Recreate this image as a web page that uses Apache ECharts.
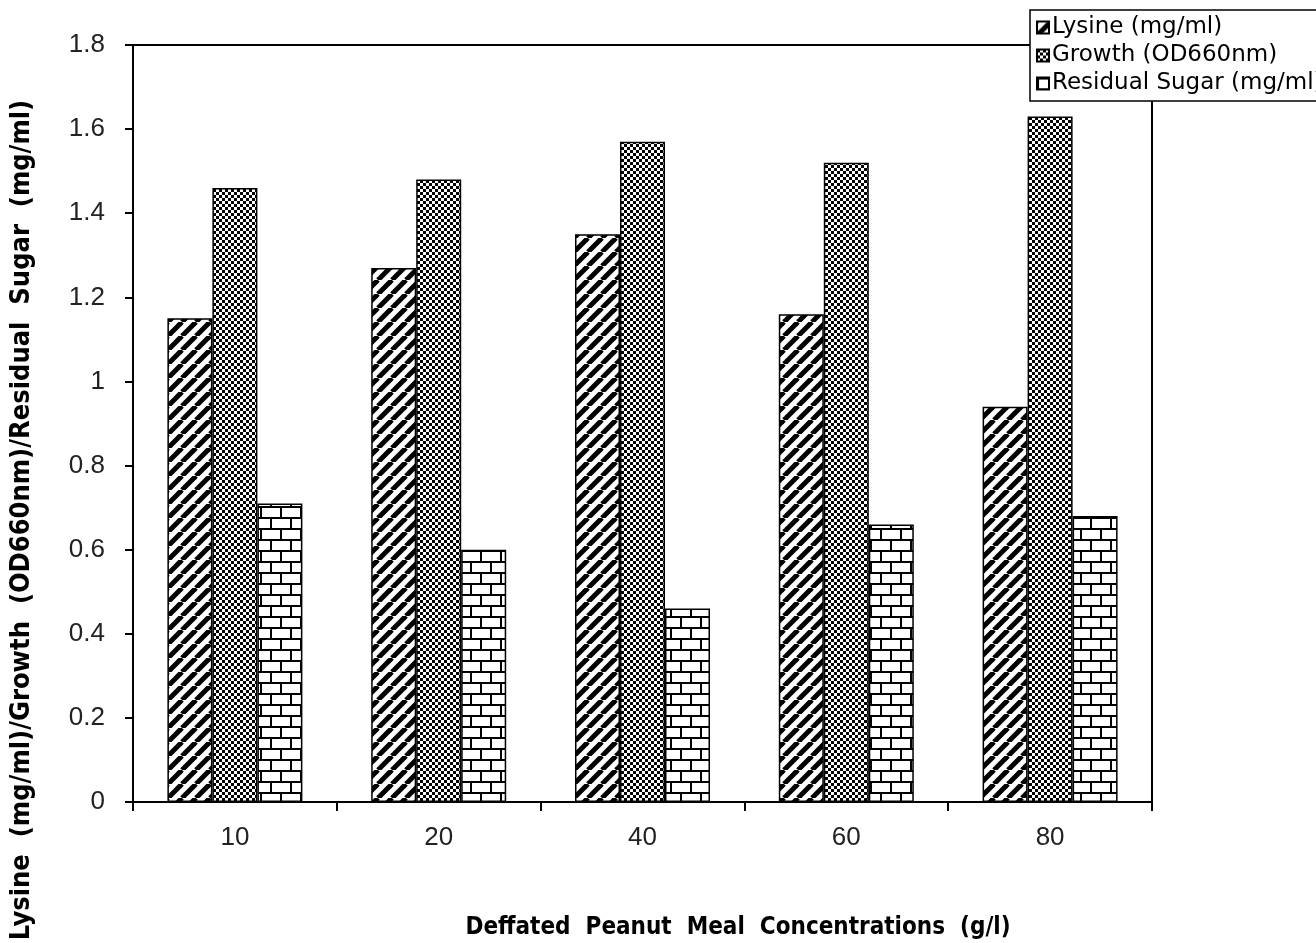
<!DOCTYPE html>
<html>
<head>
<meta charset="utf-8">
<script src="https://cdn.jsdelivr.net/npm/echarts@6/dist/echarts.min.js"></script>
<style>
html,body{margin:0;padding:0;background:#fff;}
#chart{width:1316px;height:943px;}
</style>
</head>
<body>
<div id="chart"></div>
<script>
// ---- data ----
const categories = ['10', '20', '40', '60', '80'];
const seriesNames = ['Lysine (mg/ml)', 'Growth (OD660nm)', 'Residual Sugar (mg/ml)'];
const lysine = [1.15, 1.27, 1.35, 1.16, 0.94];
const growth = [1.46, 1.48, 1.57, 1.52, 1.63];
const sugar = [0.71, 0.60, 0.46, 0.66, 0.68];
const yTickLabels = ['0', '0.2', '0.4', '0.6', '0.8', '1', '1.2', '1.4', '1.6', '1.8'];
const xTitle = 'Deffated  Peanut  Meal  Concentrations  (g/l)';
const yTitle = 'Lysine  (mg/ml)/Growth  (OD660nm)/Residual  Sugar  (mg/ml)';

// ---- patterns ----
function makeStripes() {
  const s = 14, c = document.createElement('canvas');
  c.width = s; c.height = s;
  const g = c.getContext('2d');
  g.fillStyle = '#fff'; g.fillRect(0, 0, s, s);
  g.strokeStyle = '#000'; g.lineWidth = 5;
  for (const off of [-s, 0, s]) {
    g.beginPath(); g.moveTo(off, s); g.lineTo(off + s, 0); g.stroke();
  }
  return c;
}
function makeChecker() {
  const c = document.createElement('canvas');
  c.width = 6; c.height = 6;
  const g = c.getContext('2d');
  g.fillStyle = '#fff'; g.fillRect(0, 0, 6, 6);
  g.fillStyle = '#000';
  g.fillRect(0, 0, 3, 3); g.fillRect(3, 3, 3, 3);
  return c;
}
function makeBrick() {
  const w = 20, h = 22, c = document.createElement('canvas');
  c.width = w; c.height = h;
  const g = c.getContext('2d');
  g.fillStyle = '#fff'; g.fillRect(0, 0, w, h);
  g.fillStyle = '#000';
  g.fillRect(0, 0, w, 2);
  g.fillRect(0, 11, w, 2);
  g.fillRect(0, 0, 2, 11);
  g.fillRect(10, 11, 2, 11);
  return c;
}
const patterns = [makeStripes(), makeChecker(), makeBrick()];
const values = [lysine, growth, sugar];

const chart = echarts.init(document.getElementById('chart'), null, {renderer: 'canvas'});
const tickFont = '"Liberation Sans", Arial, sans-serif';
const titleFont = '"Liberation Sans Narrow", "DejaVu Sans Condensed", sans-serif';

chart.setOption({
  backgroundColor: '#fff',
  animation: false,
  grid: {
    left: 133, top: 45, width: 1019, height: 757,
    show: true, borderColor: '#000', borderWidth: 2, backgroundColor: 'transparent'
  },
  legend: {
    orient: 'vertical',
    left: 1030, top: 10,
    data: seriesNames,
    backgroundColor: '#fff',
    borderColor: '#000', borderWidth: 1.5,
    borderRadius: 0,
    padding: [6, 6, 6, 6],
    itemWidth: 12, itemHeight: 12, itemGap: 5,
    textStyle: {fontFamily: '"DejaVu Sans", sans-serif', fontSize: 23, color: '#000', padding: [0, 0, 0, -2]},
    icon: 'rect'
  },
  xAxis: {
    type: 'category',
    data: categories,
    axisLine: {lineStyle: {color: '#000', width: 2}},
    axisTick: {show: true, length: 9, lineStyle: {color: '#000', width: 2}, alignWithLabel: false},
    axisLabel: {fontFamily: tickFont, fontSize: 26, color: '#222', margin: 23},
    splitLine: {show: false}
  },
  yAxis: {
    type: 'value',
    min: 0, max: 1.8, interval: 0.2,
    axisLine: {show: true, lineStyle: {color: '#000', width: 2}},
    axisTick: {show: true, length: 8, lineStyle: {color: '#000', width: 2}},
    axisLabel: {
      fontFamily: tickFont, fontSize: 26, color: '#222', margin: 28,
      formatter: function (v) { return yTickLabels[Math.round(v / 0.2)]; }
    },
    splitLine: {show: false}
  },
  series: seriesNames.map(function (name, i) {
    return {
      name: name,
      type: 'bar',
      data: values[i],
      barWidth: 45,
      barGap: '0%',
      itemStyle: {
        color: {image: patterns[i], repeat: 'repeat'},
        borderColor: '#000', borderWidth: 1.5
      }
    };
  }),
  graphic: [
    {
      type: 'text',
      x: 738, y: 928,
      style: {
        text: xTitle,
        font: 'bold 24px ' + titleFont,
        fill: '#000',
        textAlign: 'center', textVerticalAlign: 'middle'
      }
    },
    {
      type: 'text',
      x: 22, y: 520,
      rotation: Math.PI / 2,
      style: {
        text: yTitle,
        font: 'bold 27px ' + titleFont,
        fill: '#000',
        textAlign: 'center', textVerticalAlign: 'middle'
      }
    }
  ]
});
</script>
</body>
</html>
